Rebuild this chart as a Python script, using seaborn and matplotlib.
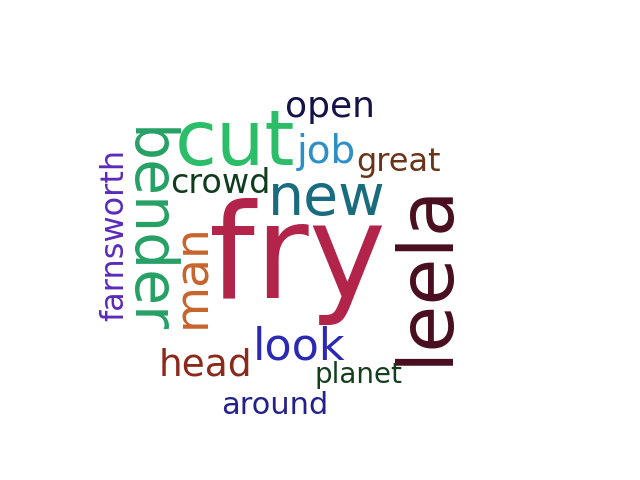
"""
Nuage de mots (Futurama) — recréé avec seaborn / matplotlib.
Sortie : out.png (640x480)
"""

import matplotlib
matplotlib.use("Agg")
import matplotlib.pyplot as plt
import seaborn as sns

# ── Données : mots et taille relative (pt) ────────────────────────────────────
words = ["fry", "leela", "cut", "bender", "new", "man", "look", "open",
         "job", "head", "crowd", "farnsworth", "great", "around", "planet"]
sizes = [94, 55, 55, 42, 41, 34, 32, 26, 28, 27, 24, 23, 23, 22, 20]

# ── Mise en page (pixels, origine en haut à gauche) ───────────────────────────
x_pos = [297, 447, 235, 130, 327, 205, 299, 330, 326, 205, 220, 123, 399, 275, 358]
y_pos = [298, 273, 165, 231, 215, 276, 359, 117, 163, 376, 193, 235, 171, 414, 383]
angles = [0, 90, 0, 270, 0, 90, 0, 0, 0, 0, 0, 90, 0, 0, 0]
colors = ["#b2244a", "#480e1f", "#2bbd68", "#25a064", "#196b7e", "#c8642c",
          "#2c2ab5", "#15124a", "#2c8fc8", "#8b2a1c", "#0f3d1c", "#5b2bb8",
          "#6a3418", "#24228a", "#153e1e"]

sns.set_theme(style="white")
plt.rcParams["font.family"] = ["DejaVu Sans"]

fig = plt.figure(figsize=(6.4, 4.8), dpi=100)
fig.patch.set_facecolor("white")
ax = fig.add_axes([0, 0, 1, 1])
ax.set_xlim(0, 640)
ax.set_ylim(480, 0)
ax.axis("off")

for w, s, x, y, a, c in zip(words, sizes, x_pos, y_pos, angles, colors):
    ax.text(x, y, w, fontsize=s, color=c, rotation=a, rotation_mode="anchor",
            ha="center", va="baseline")

fig.savefig("out.png", dpi=100, facecolor="white")
plt.close(fig)
